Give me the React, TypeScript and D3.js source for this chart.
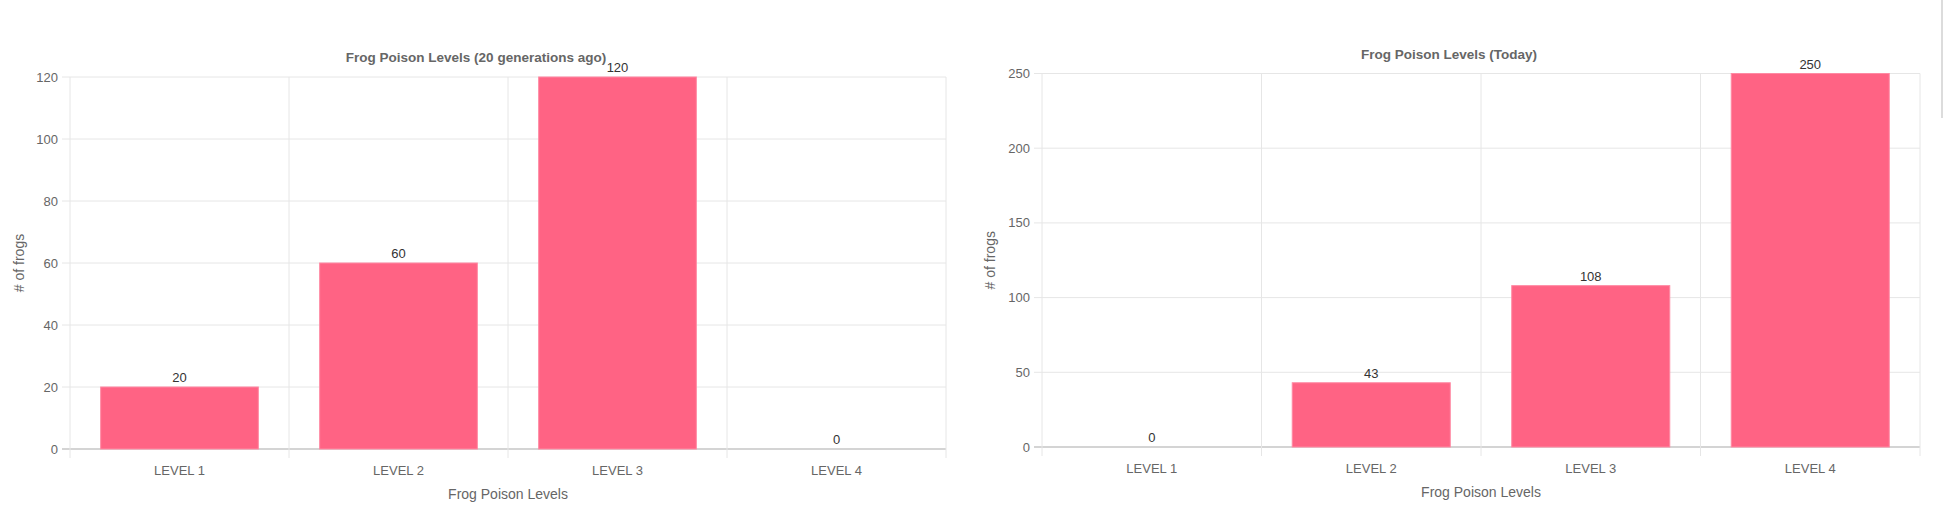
import React from "react";
import * as d3 from "d3";

const categories = ["LEVEL 1", "LEVEL 2", "LEVEL 3", "LEVEL 4"];
const frogsBefore = [20, 60, 120, 0];
const frogsToday = [0, 43, 108, 250];
const ticksBefore = [0, 20, 40, 60, 80, 100, 120];
const ticksToday = [0, 50, 100, 150, 200, 250];

const FONT = "'Liberation Sans', Arial, Helvetica, sans-serif";
const GRID = "#e6e6e6";
const TEXT = "#666";

interface IPanel {
  title: string;
  values: number[];
  ticks: number[];
  left: number;
  right: number;
  top: number;
  bottom: number;
  titleX: number;
  titleY: number;
  yTitleX: number;
}

function Panel(p: IPanel) {
  const x = d3
    .scaleBand<string>()
    .domain(categories)
    .range([p.left, p.right])
    .paddingInner(0.28)
    .paddingOuter(0.14);
  const y = d3
    .scaleLinear()
    .domain([0, d3.max(p.ticks) as number])
    .range([p.bottom, p.top]);

  const step = x.step();
  const offset = (step - x.bandwidth()) / 2;
  const bounds = categories.map((c) => (x(c) as number) - offset);
  bounds.push(p.right);

  return (
    <g fontFamily={FONT}>
      {/* horizontal grid + tick marks */}
      {p.ticks.map((t) => (
        <g key={"h" + t}>
          <line
            x1={p.left - 8}
            x2={p.right}
            y1={y(t)}
            y2={y(t)}
            stroke={t === 0 ? "#d4d4d4" : GRID}
            strokeWidth={t === 0 ? 2 : 1}
          />
          <text
            x={p.left - 12}
            y={y(t)}
            dy="0.35em"
            textAnchor="end"
            fontSize={13}
            fill={TEXT}
          >
            {t}
          </text>
        </g>
      ))}
      {/* vertical grid */}
      {bounds.map((b, i) => (
        <line
          key={"v" + i}
          x1={b}
          x2={b}
          y1={p.top}
          y2={p.bottom + 9}
          stroke={GRID}
          strokeWidth={1}
        />
      ))}
      {/* bars */}
      {p.values.map((v, i) => (
        <rect
          key={"b" + i}
          x={x(categories[i])}
          y={y(v)}
          width={x.bandwidth()}
          height={p.bottom - y(v)}
          fill="#ff6384"
          stroke="#ff8aa3"
          strokeWidth={1}
        />
      ))}
      {/* value labels */}
      {p.values.map((v, i) => (
        <text
          key={"l" + i}
          x={(x(categories[i]) as number) + x.bandwidth() / 2}
          y={y(v) - 5}
          textAnchor="middle"
          fontSize={13}
          fill="#333"
        >
          {v}
        </text>
      ))}
      {/* category labels */}
      {categories.map((c) => (
        <text
          key={c}
          x={(x(c) as number) + x.bandwidth() / 2}
          y={p.bottom + 26}
          textAnchor="middle"
          fontSize={13}
          fill={TEXT}
        >
          {c}
        </text>
      ))}
      <text
        x={(p.left + p.right) / 2}
        y={p.bottom + 50}
        textAnchor="middle"
        fontSize={14}
        fill={TEXT}
      >
        Frog Poison Levels
      </text>
      <text
        transform={`translate(${p.yTitleX},${(p.top + p.bottom) / 2}) rotate(-90)`}
        textAnchor="middle"
        dy="0.35em"
        fontSize={14}
        fill={TEXT}
      >
        # of frogs
      </text>
      <text
        x={p.titleX}
        y={p.titleY}
        textAnchor="middle"
        fontSize={13.5}
        fontWeight="bold"
        fill={TEXT}
      >
        {p.title}
      </text>
    </g>
  );
}

export default function App() {
  return (
    <svg
      width={1947}
      height={513}
      style={{ position: "absolute", left: 0, top: 0, background: "#fff" }}
    >
      <Panel
        title="Frog Poison Levels (20 generations ago)"
        values={frogsBefore}
        ticks={ticksBefore}
        left={70}
        right={946}
        top={77}
        bottom={449}
        titleX={476}
        titleY={62}
        yTitleX={19}
      />
      <Panel
        title="Frog Poison Levels (Today)"
        values={frogsToday}
        ticks={ticksToday}
        left={1042}
        right={1920}
        top={73.5}
        bottom={447}
        titleX={1449}
        titleY={58.5}
        yTitleX={990}
      />
      <line x1={1942} x2={1942} y1={0} y2={118} stroke="#dcdcdc" strokeWidth={2} />
    </svg>
  );
}
